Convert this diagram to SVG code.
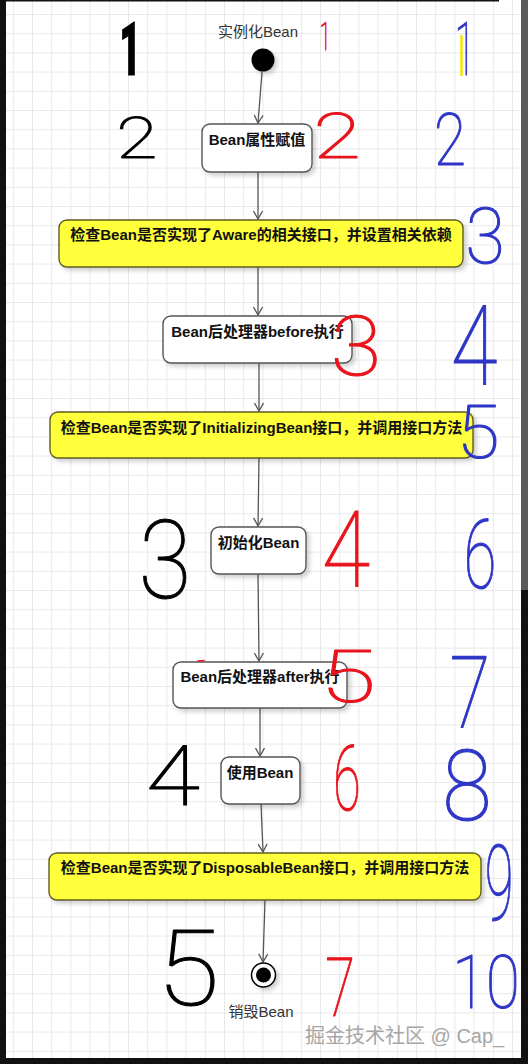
<svg xmlns="http://www.w3.org/2000/svg" width="528" height="1064" viewBox="0 0 528 1064">
<style>
.lbl{font-family:"Liberation Sans","Noto Sans CJK SC",sans-serif;font-size:15px;fill:#333;text-anchor:middle}
.bt{font-family:"Liberation Sans","Noto Sans CJK SC",sans-serif;font-size:15px;font-weight:bold;fill:#111;text-anchor:middle}
.wb{fill:#fff;stroke:#555;stroke-width:1.4}
.yb{fill:#ffff3a;stroke:#5e5e22;stroke-width:1.4}
.con{fill:none;stroke:#555;stroke-width:1.3}
.hw{font-family:Roboto,"DejaVu Sans",sans-serif;font-weight:100;text-anchor:middle;stroke-width:1.1;stroke-linejoin:round}
.k{fill:#000;stroke:#000}.r{fill:#e8141c;stroke:#e8141c}.b{fill:#2e36c6;stroke:#2e36c6}
</style>
<defs>
<pattern id="grid" x="12.8" y="14" width="19.2" height="19.2" patternUnits="userSpaceOnUse"><path d="M0 0.5H19.2M0.5 0V19.2" fill="none" stroke="#e8e8e8" stroke-width="1"/></pattern>
<filter id="sh" x="-10%" y="-20%" width="130%" height="170%"><feDropShadow dx="3" dy="3" stdDeviation="2" flood-color="#000" flood-opacity="0.18"/></filter>
<marker id="arr" viewBox="0 0 10 10" refX="9" refY="5" markerWidth="10" markerHeight="10" markerUnits="userSpaceOnUse" orient="auto"><path d="M1,0.5 L9,5 L1,9.5" fill="none" stroke="#555" stroke-width="1.3"/></marker>
</defs>
<rect width="528" height="1064" fill="#fff"/>
<rect width="528" height="1064" fill="url(#grid)"/>
<rect x="0" y="0" width="6" height="1064" fill="#111"/>
<rect x="0" y="0" width="499" height="1.5" fill="#111"/>
<rect x="521" y="0" width="7" height="590" fill="#5a5a5a"/>
<rect x="521" y="590" width="7" height="474" fill="#111"/>
<rect x="0" y="1058" width="528" height="6" fill="#111"/>

<g id="connectors">
<path class="con" marker-end="url(#arr)" d="M262 72 L258 123"/>
<path class="con" marker-end="url(#arr)" d="M258 172 L258 219"/>
<path class="con" marker-end="url(#arr)" d="M258 267 L258 315"/>
<path class="con" marker-end="url(#arr)" d="M259 363 L259 411"/>
<path class="con" marker-end="url(#arr)" d="M259 458 L258 526"/>
<path class="con" marker-end="url(#arr)" d="M258 574 L259 661"/>
<path class="con" marker-end="url(#arr)" d="M260 708 L260 756"/>
<path class="con" marker-end="url(#arr)" d="M261 804 L263 852"/>
<path class="con" marker-end="url(#arr)" d="M265 900 L263 962"/>
</g>

<g id="start">
<text class="lbl" x="258" y="37">实例化Bean</text>
<circle cx="263" cy="60" r="11.5" fill="#000" filter="url(#sh)"/>
</g>
<g id="n1"><rect class="wb" x="202" y="124" width="110" height="48" rx="8" filter="url(#sh)"/><text class="bt" x="257" y="145">Bean属性赋值</text></g>
<g id="n2"><rect class="yb" x="59" y="220" width="404" height="47" rx="8" filter="url(#sh)"/><text class="bt" x="261" y="240">检查Bean是否实现了Aware的相关接口，并设置相关依赖</text></g>
<g id="n3"><rect class="wb" x="163" y="316" width="189" height="47" rx="8" filter="url(#sh)"/><text class="bt" x="257.5" y="337">Bean后处理器before执行</text></g>
<g id="n4"><rect class="yb" x="50" y="412" width="423" height="46" rx="8" filter="url(#sh)"/><text class="bt" x="261.5" y="433">检查Bean是否实现了InitializingBean接口，并调用接口方法</text></g>
<g id="n5"><rect class="wb" x="211" y="527" width="95" height="47" rx="8" filter="url(#sh)"/><text class="bt" x="258.5" y="548">初始化Bean</text></g>
<g id="n6"><rect class="wb" x="173" y="662" width="174" height="46" rx="8" filter="url(#sh)"/><text class="bt" x="260" y="682">Bean后处理器after执行</text></g>
<g id="n7"><rect class="wb" x="221" y="757" width="79" height="47" rx="8" filter="url(#sh)"/><text class="bt" x="260" y="778">使用Bean</text></g>
<g id="n8"><rect class="yb" x="49" y="853" width="432" height="47" rx="8" filter="url(#sh)"/><text class="bt" x="265" y="873">检查Bean是否实现了DisposableBean接口，并调用接口方法</text></g>
<g id="end">
<circle cx="263.5" cy="975" r="12" fill="#fff" stroke="#000" stroke-width="1.5" filter="url(#sh)"/>
<circle cx="263.5" cy="975" r="7.5" fill="#000"/>
<text class="lbl" x="261" y="1017">销毁Bean</text>
</g>

<g id="annotations">
<line x1="461.5" y1="36" x2="461.5" y2="75" stroke="#f2e600" stroke-width="2.5" stroke-linecap="round"/>
<line x1="198" y1="661" x2="204" y2="660.5" stroke="#e8141c" stroke-width="1.5" stroke-linecap="round"/>
<text class="hw k" style="font-weight:900" font-size="75" transform="translate(130,75) scale(0.5,1)">1</text>
<text class="hw k" font-size="58" transform="translate(137,158) scale(1.3,1)">2</text>
<text class="hw k" font-size="110" transform="translate(165,598) scale(0.87,1)">3</text>
<text class="hw k" font-size="84" transform="translate(173,805) scale(1.17,1)">4</text>
<text class="hw k" font-size="106" transform="translate(188,1005) scale(1.08,1)">5</text>
<text class="hw r" font-size="39" transform="translate(325,50) scale(0.5,1)">1</text>
<text class="hw r" font-size="63" transform="translate(337,158) scale(1.38,1)">2</text>
<text class="hw r" font-size="84" transform="translate(356,375) scale(1.1,1)">3</text>
<text class="hw r" font-size="105" transform="translate(346,587) scale(0.84,1)">4</text>
<text class="hw r" font-size="73" transform="translate(348,702) scale(1.4,1)">5</text>
<text class="hw r" font-size="91" transform="translate(347,810) scale(0.55,1)">6</text>
<text class="hw r" font-size="82" transform="translate(340,1016) scale(0.66,1)">7</text>
<text class="hw b" font-size="75" transform="translate(465,75) scale(0.5,1)">1</text>
<text class="hw b" font-size="73" transform="translate(450,165) scale(0.8,1)">2</text>
<text class="hw b" font-size="77" transform="translate(485,263) scale(0.93,1)">3</text>
<text class="hw b" font-size="112" transform="translate(474,385) scale(0.76,1)">4</text>
<text class="hw b" font-size="75" transform="translate(478,458) scale(1.05,1)">5</text>
<text class="hw b" font-size="96" transform="translate(480,588) scale(0.62,1)">6</text>
<text class="hw b" font-size="100" transform="translate(470,728) scale(0.74,1)">7</text>
<text class="hw b" font-size="98" transform="translate(467,820) scale(0.92,1)">8</text>
<text class="hw b" font-size="105" transform="translate(499,920) scale(0.5,1)">9</text>
<text class="hw b" font-size="75" transform="translate(486,1008) scale(0.82,1)">10</text>
</g>

<text x="305" y="1043" font-family="Liberation Sans,Noto Sans CJK SC,sans-serif" font-size="20" fill="#a6a6a6">掘金技术社区 @ Cap_</text>
</svg>
